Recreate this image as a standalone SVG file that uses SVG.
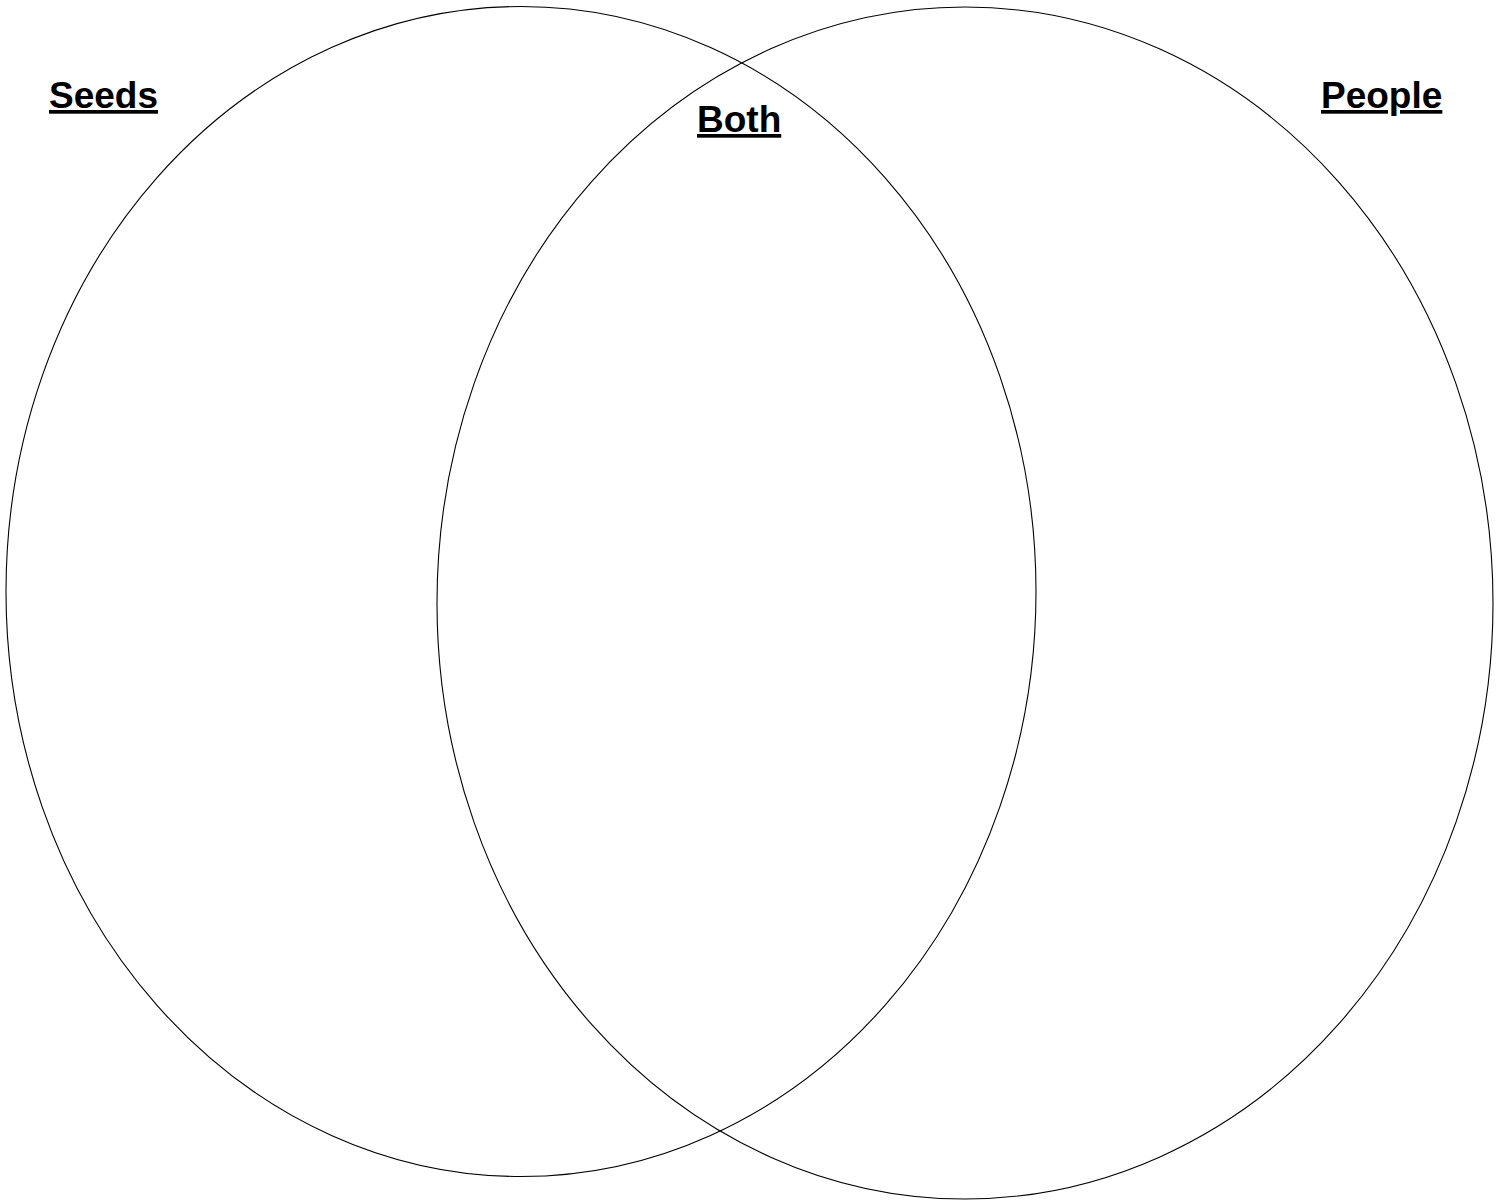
<svg xmlns="http://www.w3.org/2000/svg" width="1502" height="1201" viewBox="0 0 1502 1201">
<style>
.c{fill:none;stroke:#000;stroke-width:1.1}
.t{font-family:"Liberation Sans",Arial,sans-serif;font-weight:bold;font-size:37px;fill:#000;text-decoration:underline;text-underline-offset:5px;text-decoration-thickness:4px}
</style>
<rect width="1502" height="1201" fill="#fff"/>
<g id="seeds">
<ellipse class="c" cx="521" cy="591.5" rx="515" ry="585"/>
<text class="t" x="49" y="108">Seeds</text>
</g>
<g id="people">
<ellipse class="c" cx="965" cy="603" rx="528" ry="596"/>
<text class="t" x="1321" y="108">People</text>
</g>
<g id="both">
<text class="t" x="697" y="132">Both</text>
</g>
<g id="connectors"></g>
</svg>
